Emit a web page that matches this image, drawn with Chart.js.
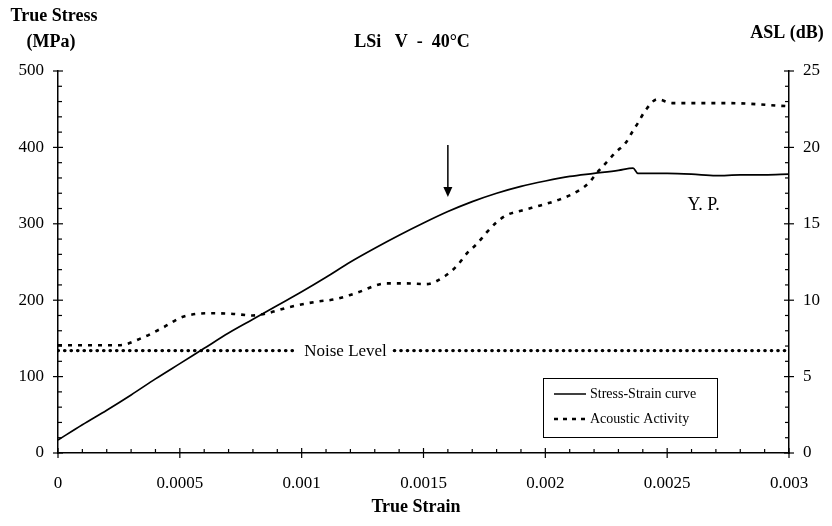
<!DOCTYPE html>
<html>
<head>
<meta charset="utf-8">
<script src="https://cdn.jsdelivr.net/npm/chart.js@4/dist/chart.umd.min.js"></script>
<style>
  html, body { margin: 0; padding: 0; background: #fff; }
  #wrap { width: 832px; height: 526px; }
</style>
</head>
<body>
<div id="wrap"><canvas id="c" width="832" height="526"></canvas></div>
<script>
// Stress-strain curve (left axis, MPa)
const stressStrain = [0, 0.0001, 0.0002, 0.0003, 0.0004, 0.0005, 0.0006, 0.0007, 0.0008, 0.0009,
  0.001, 0.0011, 0.0012, 0.0013, 0.0014, 0.0015, 0.0016, 0.0017, 0.0018, 0.0019,
  0.002, 0.0021, 0.0022, 0.0023, 0.00236, 0.00238, 0.0025, 0.0026, 0.0027, 0.0028, 0.0029, 0.003];
const stressMPa = [17, 37, 56, 76, 97, 117, 137, 157, 175, 193,
  211, 230, 250, 268, 285, 301, 316, 329, 340, 349,
  356, 362, 366, 370, 373, 366, 366, 365, 363, 364, 364, 365];

// Acoustic activity (right axis, dB)
const acousticStrain = [0, 0.00025, 0.00034, 0.00043, 0.00051, 0.00063, 0.00072, 0.0008, 0.00086, 0.00095,
  0.00106, 0.00114, 0.00122, 0.00135, 0.00143, 0.00151, 0.00159, 0.00164, 0.00168, 0.00172,
  0.00176, 0.0018, 0.00184, 0.00191, 0.00198, 0.00206, 0.00214, 0.00218, 0.00221, 0.00225,
  0.00229, 0.00233, 0.00236, 0.00238, 0.00241, 0.00246, 0.00252, 0.00275, 0.00299];
const acousticDb = [7.05, 7.05, 7.5, 8.2, 8.9, 9.15, 9.1, 9.0, 9.15, 9.55,
  9.9, 10.07, 10.45, 11.1, 11.1, 11.05, 11.6, 12.3, 13.1, 13.7,
  14.45, 15.1, 15.56, 15.9, 16.2, 16.6, 17.2, 17.7, 18.3, 19.0,
  19.7, 20.3, 21.1, 21.6, 22.4, 23.15, 22.9, 22.9, 22.7];

// Noise level (right axis, dB), broken where its label sits
const noiseLevelDb = 6.7;
const noiseSegments = [[0, 0.00098], [0.00138, 0.003]];
const noiseLabelStrain = 0.00118;

// Tick values
const xTicks = [0, 0.0005, 0.001, 0.0015, 0.002, 0.0025, 0.003];
const xTickLabels = ['0', '0.0005', '0.001', '0.0015', '0.002', '0.0025', '0.003'];
const stressTicks = [0, 100, 200, 300, 400, 500];
const aslTicks = [0, 5, 10, 15, 20, 25];

// Annotations
const arrowStrain = 0.0016, arrowFromMPa = 403, arrowToMPa = 335;
const ypLabel = { strain: 0.00265, mpa: 324, text: 'Y. P.' };

const SERIF = '"Liberation Serif", "DejaVu Serif", serif';

const xy = (xs, ys) => xs.map((x, i) => ({ x, y: ys[i] }));
const noiseData = [];
noiseSegments.forEach((s, i) => {
  if (i > 0) noiseData.push({ x: (noiseSegments[i - 1][1] + s[0]) / 2, y: null });
  noiseData.push({ x: s[0], y: noiseLevelDb }, { x: s[1], y: noiseLevelDb });
});

const tickMarks = {
  id: 'tickMarks',
  afterDraw(chart) {
    const { ctx, chartArea: a, scales } = chart;
    ctx.save();
    ctx.strokeStyle = '#000';
    ctx.lineWidth = 1.2;
    const seg = (x1, y1, x2, y2) => { ctx.beginPath(); ctx.moveTo(x1, y1); ctx.lineTo(x2, y2); ctx.stroke(); };
    for (let i = 0; i <= 25; i++) {
      const p = scales.y.getPixelForValue(i * 20);
      if (i % 5 === 0) seg(a.left - 5, p, a.left + 5, p); else seg(a.left, p, a.left + 4, p);
    }
    for (let i = 0; i <= 25; i++) {
      const p = scales.y1.getPixelForValue(i);
      if (i % 5 === 0) seg(a.right - 5, p, a.right + 5, p); else seg(a.right - 4, p, a.right, p);
    }
    for (let i = 0; i <= 30; i++) {
      const p = scales.x.getPixelForValue(i * 0.0001);
      if (i % 5 === 0) seg(p, a.bottom - 5, p, a.bottom + 5); else seg(p, a.bottom - 4, p, a.bottom);
    }
    ctx.restore();
  }
};

const annotations = {
  id: 'annotations',
  afterDraw(chart) {
    const { ctx, scales } = chart;
    const X = scales.x, Y = scales.y, Y1 = scales.y1;
    ctx.save();
    ctx.fillStyle = '#000';
    ctx.strokeStyle = '#000';

    // headers
    ctx.textAlign = 'center';
    ctx.textBaseline = 'middle';
    ctx.font = 'bold 18px ' + SERIF;
    ctx.fillText('True Stress', 54, 16);
    ctx.fillText('(MPa)', 51, 42);
    ctx.fillText('LSi   V  -  40°C', 412, 42);
    ctx.fillText('ASL (dB)', 787, 33);
    ctx.fillText('True Strain', 416, 507);

    // noise level label
    ctx.font = '17px ' + SERIF;
    ctx.fillText('Noise Level', X.getPixelForValue(noiseLabelStrain), Y1.getPixelForValue(noiseLevelDb) + 1);

    // yield point label
    ctx.font = '18px ' + SERIF;
    ctx.fillText(ypLabel.text, X.getPixelForValue(ypLabel.strain), Y.getPixelForValue(ypLabel.mpa));

    // arrow
    const ax = X.getPixelForValue(arrowStrain);
    const ay0 = Y.getPixelForValue(arrowFromMPa), ay1 = Y.getPixelForValue(arrowToMPa);
    ctx.lineWidth = 1.5;
    ctx.beginPath(); ctx.moveTo(ax, ay0); ctx.lineTo(ax, ay1 - 8); ctx.stroke();
    ctx.beginPath(); ctx.moveTo(ax - 4.5, ay1 - 10); ctx.lineTo(ax + 4.5, ay1 - 10); ctx.lineTo(ax, ay1); ctx.closePath(); ctx.fill();

    // legend
    const bx = 543, by = 378, bw = 174, bh = 59;
    ctx.fillStyle = '#fff';
    ctx.fillRect(bx, by, bw, bh);
    ctx.lineWidth = 1;
    ctx.strokeRect(bx + 0.5, by + 0.5, bw, bh);
    ctx.fillStyle = '#000';
    ctx.lineWidth = 1.5;
    ctx.beginPath(); ctx.moveTo(554, 394); ctx.lineTo(586, 394); ctx.stroke();
    ctx.lineWidth = 2.5;
    ctx.setLineDash([4, 5]);
    ctx.beginPath(); ctx.moveTo(554, 419); ctx.lineTo(586, 419); ctx.stroke();
    ctx.setLineDash([]);
    ctx.textAlign = 'left';
    ctx.font = '14px ' + SERIF;
    ctx.fillText('Stress-Strain curve', 590, 394);
    ctx.fillText('Acoustic Activity', 590, 419);
    ctx.restore();
  }
};

new Chart(document.getElementById('c'), {
  type: 'line',
  data: {
    datasets: [
      {
        label: 'Stress-Strain curve',
        data: xy(stressStrain, stressMPa),
        yAxisID: 'y',
        borderColor: '#000',
        borderWidth: 1.7,
        pointRadius: 0,
        cubicInterpolationMode: 'monotone'
      },
      {
        label: 'Acoustic Activity',
        data: xy(acousticStrain, acousticDb),
        yAxisID: 'y1',
        borderColor: '#000',
        borderWidth: 2.6,
        borderDash: [4, 6],
        pointRadius: 0,
        cubicInterpolationMode: 'monotone'
      },
      {
        label: 'Noise Level',
        data: noiseData,
        yAxisID: 'y1',
        borderColor: '#000',
        borderWidth: 3.2,
        borderDash: [0.5, 6],
        borderCapStyle: 'round',
        pointRadius: 0,
        spanGaps: false
      }
    ]
  },
  options: {
    responsive: false,
    animation: false,
    layout: { padding: { top: 71, left: 0, right: 0, bottom: 0 } },
    plugins: { legend: { display: false }, tooltip: { enabled: false }, title: { display: false } },
    scales: {
      x: {
        type: 'linear', min: 0, max: 0.003,
        grid: { display: false, drawTicks: false },
        border: { display: true, color: '#000', width: 1.5 },
        afterBuildTicks: s => { s.ticks = xTicks.map(v => ({ value: v })); },
        afterFit: s => { s.height = 73; },
        ticks: {
          color: '#000', padding: 20, maxRotation: 0, autoSkip: false,
          font: { family: SERIF, size: 17 },
          callback: (v, i) => xTickLabels[i]
        }
      },
      y: {
        type: 'linear', position: 'left', min: 0, max: 500,
        grid: { display: false, drawTicks: false },
        border: { display: true, color: '#000', width: 1.5 },
        afterBuildTicks: s => { s.ticks = stressTicks.map(v => ({ value: v })); },
        afterFit: s => { s.width = 58; },
        ticks: { color: '#000', padding: 14, autoSkip: false, font: { family: SERIF, size: 17 } }
      },
      y1: {
        type: 'linear', position: 'right', min: 0, max: 25,
        grid: { display: false, drawTicks: false },
        border: { display: true, color: '#000', width: 1.5 },
        afterBuildTicks: s => { s.ticks = aslTicks.map(v => ({ value: v })); },
        afterFit: s => { s.width = 43; },
        ticks: { color: '#000', padding: 14, autoSkip: false, font: { family: SERIF, size: 17 } }
      }
    }
  },
  plugins: [tickMarks, annotations]
});
</script>
</body>
</html>
